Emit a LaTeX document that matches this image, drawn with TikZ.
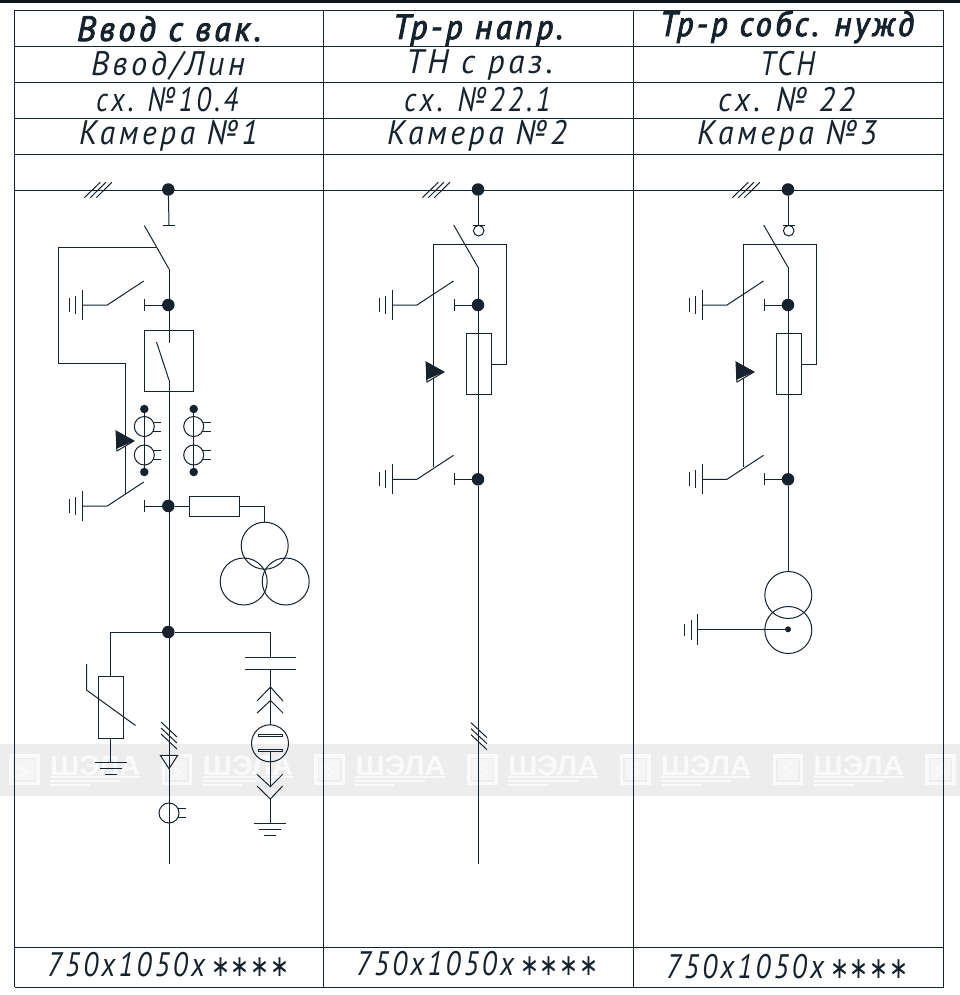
\documentclass[tikz,border=0pt]{standalone}
\usepackage{fontspec}
\usepackage{graphicx}
\setmainfont{PT Sans}[FakeStretch=0.8,LetterSpace=9]
\newfontfamily\headfont{PT Sans}[FakeStretch=0.85,LetterSpace=9,FakeBold=2.5]
\newfontfamily\wmfont{Liberation Sans}
\newfontfamily\starfont{DejaVu Sans}[LetterSpace=3]
\definecolor{ink}{HTML}{16232E}
\definecolor{band}{HTML}{EDEDED}
\definecolor{wmark}{HTML}{FAFAFA}
\definecolor{wminner}{HTML}{F5F5F5}
\newcommand{\cadtext}[6]{% name, x, baseline y, width, size, text
  \node[cadlabel] (#1) at (#2,#3) {\fontsize{#5}{#5}\selectfont\resizebox{#4pt}{\height}{\itshape #6}};}
\newcommand{\cadbold}[6]{%
  \node[cadlabel] (#1) at (#2,#3) {\headfont\fontsize{#5}{#5}\selectfont\resizebox{#4pt}{\height}{\itshape #6}};}
\newcommand{\cadsize}[3]{% name, x, baseline y
  \node[cadlabel] (#1) at (#2,#3) {\fontsize{34}{34}\selectfont\resizebox{158pt}{\height}{\itshape 750x1050x}\hspace{6pt}\resizebox{78pt}{\height}{\starfont\fontsize{30}{30}\selectfont ∗∗∗∗}};}
\tikzset{
  cadlabel/.style={anchor=base west,inner sep=0pt,outer sep=0pt,text=ink},
  busdot/.style={circle,fill=ink,draw=none,minimum size=12.5pt,inner sep=0pt},
  smalldot/.style={circle,fill=ink,draw=none,minimum size=8.5pt,inner sep=0pt},
  wire/.style={draw=ink,line width=1pt},
  pics/earthswitch/.style={code={
    \draw[wire] (-86,-15) -- (-86,15);
    \draw[wire] (-92.5,-9) -- (-92.5,9);
    \draw[wire] (-99,-7) -- (-99,7);
    \draw[wire] (-86,0) -- (-61,0) -- (-24.5,-24);
    \draw[wire] (-24,-6) -- (-24,6);
    \draw[wire] (-24,0) -- (0,0);
  }},
  pics/groundthree/.style={code={
    \draw[wire] (-16,0) -- (16,0);
    \draw[wire] (-11,6.3) -- (11,6.3);
    \draw[wire] (-6,12.6) -- (6,12.6);
  }},
  pics/slashes/.style={code={
    \draw[wire] (-8,0) -- (8,15);
    \draw[wire] (-8,6) -- (8,21);
    \draw[wire] (-8,12) -- (8,27);
  }},
  pics/busticks/.style={code={
    \draw[wire] (0,15.4) -- (16,0);
    \draw[wire] (6,15.4) -- (21.5,0);
    \draw[wire] (12,15.4) -- (27.5,0);
  }},
  pics/ctcore/.style={code={
    \draw[wire] (0,0) circle[radius=10];
    \draw[wire] (9,-4.5) -- (17,-4.5);
    \draw[wire] (9,4.5) -- (17,4.5);
  }},
  pics/flag/.style={code={
    \draw[wire,fill=white] (0,0) -- (18,10) -- (1,20) -- cycle;
    \fill[ink] (0,0) -- (18,10) -- (0,18) -- cycle;
  }},
  pics/wmlogo/.style={code={
    \fill[wmark] (0,0) rectangle (30.7,31);
    \fill[band] (3.5,3.5) rectangle (27.2,27.5);
    \fill[wminner] (5,5) rectangle (25.7,26);
    \draw[wmark,line width=1.6pt] (20,8) -- (10,14) -- (20,17) -- (10,24);
  }},
  pics/wmtext/.style={code={
    \node[anchor=base west,inner sep=0pt,text=wmark] at (0,20) {\wmfont\bfseries\fontsize{28}{28}\selectfont\resizebox{90pt}{\height}{ШЭЛА}};
    \fill[wmark] (0,21) rectangle (90,23);
    \fill[wmark] (0,25) rectangle (70,27);
    \fill[wmark] (0,29) rectangle (40,31);
  }},
}
\begin{document}
\begin{tikzpicture}[x=1pt,y=-1pt]
\useasboundingbox (0,0) rectangle (960,995);
\fill[white] (0,0) rectangle (960,995);
% watermark band
\fill[band] (0,744) rectangle (960,796);
\foreach \k in {0,1,2,3,4,5,6} {
  \pic at ({9+152.7*\k},754) {wmlogo};
}
\foreach \k in {0,1,2,3,4,5} {
  \pic at ({50+152.7*\k},755) {wmtext};
}
% top bar
\fill[ink!60!black] (0,0) rectangle (960,3.4);
% table
\foreach \yy in {10.4,46.4,82.4,118.4,154.4,190.4,947.4,987.4} {
  \draw[wire] (14.5,\yy) -- (943.5,\yy);
}
\foreach \xx in {14.5,323.5,633.5,943.5} {
  \draw[wire] (\xx,10.4) -- (\xx,987.4);
}
% titles
\cadbold{t1}{77}{41}{184}{35}{Ввод с вак.}
\cadbold{t2}{393}{39}{170}{35}{Тр-р напр.}
\cadbold{t3}{660}{36}{254}{35}{Тр-р собс. нужд}
\cadtext{a1}{91}{76}{154}{34}{Ввод/Лин}
\cadtext{a2}{406}{74}{147}{34}{ТН с раз.}
\cadtext{a3}{760}{76}{55}{34}{ТСН}
\cadtext{b1}{96}{112}{142}{34}{сх. №10.4}
\cadtext{b2}{404}{112}{147}{34}{сх. №22.1}
\cadtext{b3}{718}{112}{137}{34}{сх. № 22}
\cadtext{c1}{79}{145}{179}{34}{Камера №1}
\cadtext{c2}{387}{145}{180}{34}{Камера №2}
\cadtext{c3}{697}{145}{180}{34}{Камера №3}
\cadsize{d1}{47}{976}
\cadsize{d2}{356}{975}
\cadsize{d3}{666}{978}

% ---------- column 1
\node[busdot] (bus1) at (168.3,189.5) {};
\pic at (84.3,182.3) {busticks};
\coordinate (tick1) at (169,225);
\draw[wire] (bus1) -- (tick1);
\draw[wire] (163,225) -- (175,225);
\draw[wire] (144.3,225.5) -- (169,269);
\node[busdot] (j1a) at (168.3,305) {};
\draw[wire] (169,269) -- (169,343);
\pic at (168.3,305) {earthswitch};
\draw[wire] (144.5,330) rectangle (193.5,391);
\draw[wire] (156.5,342) -- (169,380);
\coordinate (mainend1) at (169,864);
\draw[wire] (169,380) -- (mainend1);
% interlock
\draw[wire] (156,247) -- (58.5,247) -- (58.5,363) -- (125.5,363) -- (125.5,494);
% flag
\pic at (116,431) {flag};
% current transformers
\foreach \cx in {144.3,193.7} {
  \node[smalldot] at (\cx,409) {};
  \node[smalldot] at (\cx,472) {};
  \draw[wire] (\cx,409) -- (\cx,472);
  \pic at (\cx,426.5) {ctcore};
  \pic at (\cx,455) {ctcore};
}
% second earth switch
\node[busdot] (j1b) at (168.3,506) {};
\pic at (168.3,506) {earthswitch};
% fuse and VT
\node[draw=ink,line width=1pt,fill=white,minimum width=50pt,minimum height=20pt,inner sep=0pt,outer sep=0pt] (fuse1) at (214.5,506) {};
\draw[wire] (j1b) -- (fuse1);
\coordinate (vt1) at (264.7,522);
\draw[wire] (fuse1.east) -| (vt1);
\draw[wire] (264.7,545.7) circle[radius=23.5];
\draw[wire] (243.7,581.5) circle[radius=23.5];
\draw[wire] (285.7,581.5) circle[radius=23.5];
% lower junction
\node[busdot] (j1c) at (168.3,632) {};
\coordinate (arr1) at (110.5,632);
\coordinate (cap1) at (270.5,632);
\draw[wire] (arr1) -- (j1c) -- (cap1);
\node[draw=ink,line width=1pt,minimum width=25pt,minimum height=62pt,inner sep=0pt,outer sep=0pt] (arr) at (111,707) {};
\draw[wire] (arr1) -- (arr1 |- arr.north);
\draw[wire] (arr1 |- arr.south) -- (110.5,762);
\pic at (110.7,762) {groundthree};
\draw[wire] (86.5,664) -- (86.5,690) -- (135.5,725.5);
% measuring line
\pic at (169,722) {slashes};
\draw[wire] (160.3,755.3) -- (177.7,755.3) -- (169,768.7) -- cycle;
\pic at (169,813) {ctcore};
% capacitor branch
\draw[wire] (cap1) -- (270.5,657);
\draw[wire] (245,657) -- (296,657);
\draw[wire] (245,669) -- (296,669);
\draw[wire] (270.5,669) -- (270.5,725);
\draw[wire] (257,701) -- (270.5,687) -- (283,701);
\draw[wire] (257,713) -- (270.5,700.5) -- (283,713);
\draw[wire] (270,743.3) circle[radius=18.5];
\draw[wire] (258.3,734.3) rectangle (282,736.7);
\draw[wire] (258.3,749.3) rectangle (282,751.7);
\draw[wire] (270.5,751.7) -- (270.5,787);
\draw[wire] (257,774.3) -- (270.3,786.7) -- (282.7,774.3);
\draw[wire] (257,786) -- (270.3,799) -- (282.7,786);
\draw[wire] (270.5,799) -- (270.5,823);
\pic at (270,823) {groundthree};

% ---------- columns 2 and 3 (common upper part)
\foreach \dx/\c in {0/two,310/three} {
\begin{scope}[shift={(\dx,0)}]
  \node[busdot] (bus\c) at (478,189.5) {};
  \pic at (422.3,182.3) {busticks};
  \draw[wire] (bus\c) -- (478,225);
  \draw[wire] (473,225) -- (485,225);
  \draw[wire] (478.7,230.7) circle[radius=5.3];
  \draw[wire] (453.7,225) -- (478,267.3);
  \node[busdot] (up\c) at (478,305) {};
  \node[busdot] (lo\c) at (478,479.3) {};
  \draw[wire] (478,267.3) -- (up\c);
  \draw[wire] (up\c) -- (lo\c);
  \pic at (478,305) {earthswitch};
  \pic at (478,479.3) {earthswitch};
  \node[draw=ink,line width=1pt,minimum width=25pt,minimum height=61pt,inner sep=0pt,outer sep=0pt] (fuse\c) at (478.8,363.8) {};
  \draw[wire] (466.3,244.3) -- (433.3,244.3) -- (433.3,467.3);
  \draw[wire] (466.3,244.3) -- (506.3,244.3) -- (506.3,364.3) -- (491.3,364.3);
  \pic at (426,362) {flag};
\end{scope}
}
% column 2 lower part
\coordinate (mainend2) at (478,864);
\draw[wire] (lotwo) -- (mainend2);
\pic at (479,722.7) {slashes};
% column 3 lower part
\coordinate (tsn) at (788,571.5);
\draw[wire] (lothree) -- (tsn);
\draw[wire] (788.3,595) circle[radius=23.5];
\draw[wire] (788.3,630) circle[radius=23.5];
\node[circle,fill=ink,minimum size=6pt,inner sep=0pt] (tsndot) at (788,629.3) {};
\coordinate (tsnearth) at (697.5,629.3);
\draw[wire] (tsnearth) -- (tsndot);
\draw[wire] (697.5,614) -- (697.5,645);
\draw[wire] (691.7,620) -- (691.7,640);
\draw[wire] (684.5,624) -- (684.5,636);
\end{tikzpicture}
\end{document}
